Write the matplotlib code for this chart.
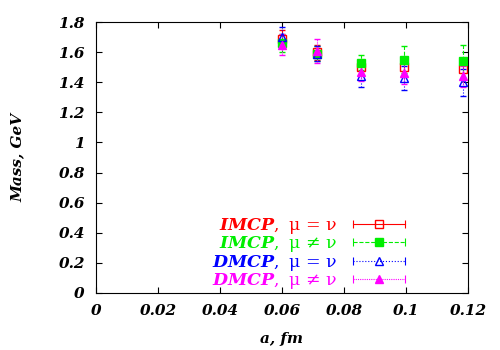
import matplotlib
matplotlib.use('Agg')
import matplotlib.pyplot as plt
from matplotlib.lines import Line2D
from matplotlib.legend_handler import HandlerLine2D

# lattice spacings (fm)
a_vals = [0.0599, 0.0713, 0.0854, 0.0995, 0.1183]

imcp_eq = [1.69, 1.60, 1.50, 1.50, 1.49]
imcp_eq_err = [0.06, 0.05, 0.05, 0.06, 0.07]
imcp_ne = [1.66, 1.59, 1.53, 1.55, 1.54]
imcp_ne_err = [0.06, 0.05, 0.05, 0.09, 0.11]
dmcp_eq = [1.70, 1.59, 1.44, 1.43, 1.40]
dmcp_eq_err = [0.07, 0.05, 0.07, 0.08, 0.09]
dmcp_ne = [1.65, 1.61, 1.47, 1.46, 1.44]
dmcp_ne_err = [0.07, 0.08, 0.06, 0.07, 0.07]

labels = [r'$\mathit{IMCP,}$ μ = ν', r'$\mathit{IMCP,}$ μ ≠ ν',
          r'$\mathit{DMCP,}$ μ = ν', r'$\mathit{DMCP,}$ μ ≠ ν']
colors = ['#ff0000', '#00ee00', '#0000ff', '#ff00ff']

xticks = [0, 0.02, 0.04, 0.06, 0.08, 0.1, 0.12]
xticklabels = ['0', '0.02', '0.04', '0.06', '0.08', '0.1', '0.12']
yticks = [0, 0.2, 0.4, 0.6, 0.8, 1.0, 1.2, 1.4, 1.6, 1.8]
yticklabels = ['0', '0.2', '0.4', '0.6', '0.8', '1', '1.2', '1.4', '1.6', '1.8']

plt.rcParams['mathtext.fontset'] = 'custom'
plt.rcParams['mathtext.it'] = 'DejaVu Serif:italic:bold'
plt.rcParams['mathtext.rm'] = 'DejaVu Serif'

fig = plt.figure(figsize=(5, 3.5), dpi=100)
ax = fig.add_axes([0.192, 0.163, 0.744, 0.774])

series = [
    (imcp_eq, imcp_eq_err, 's', 'none', '-'),
    (imcp_ne, imcp_ne_err, 's', None, '--'),
    (dmcp_eq, dmcp_eq_err, '^', 'none', ':'),
    (dmcp_ne, dmcp_ne_err, '^', None, (0, (1, 1))),
]

handles = []
hmap = {}
for (y, e, m, fc, ls), c in zip(series, colors):
    eb = ax.errorbar(a_vals, y, yerr=e, fmt=m, color=c, mfc=fc if fc else c,
                     mec=c, ms=6, mew=1, capsize=2.5, elinewidth=0.8,
                     capthick=0.8)
    eb[2][0].set_linestyle(ls)
    cap = Line2D([], [], color=c, lw=0.8, ls=ls, marker='|', ms=6, mew=0.8)
    mk = Line2D([], [], color=c, ls='none', marker=m, ms=6, mew=1,
                mfc=fc if fc else c, mec=c)
    hmap[cap] = HandlerLine2D(numpoints=2)
    hmap[mk] = HandlerLine2D(numpoints=1)
    handles.append((cap, mk))

ax.set_xlim(0, 0.12)
ax.set_ylim(0, 1.8)
ax.set_xticks(xticks)
ax.set_xticklabels(xticklabels)
ax.set_yticks(yticks)
ax.set_yticklabels(yticklabels)
ax.tick_params(direction='in', top=True, right=True, length=4, width=0.8,
               labelsize=11, pad=8)
for lab in ax.get_xticklabels() + ax.get_yticklabels():
    lab.set_family('DejaVu Serif')
    lab.set_style('italic')
    lab.set_weight('bold')
for sp in ax.spines.values():
    sp.set_linewidth(0.8)

ax.set_xlabel('a, fm', family='DejaVu Serif', style='italic',
              weight='bold', fontsize=11, labelpad=10)
ax.set_ylabel('Mass, GeV', family='DejaVu Serif', style='italic',
              weight='bold', fontsize=11, labelpad=24)

leg = ax.legend(handles, labels, handler_map=hmap, loc='lower right',
                bbox_to_anchor=(0.886, -0.05), frameon=False,
                markerfirst=False, handlelength=3.6, handletextpad=0.6,
                labelspacing=-0.1, prop={'family': 'DejaVu Serif', 'size': 12.5})
for t, c in zip(leg.get_texts(), colors):
    t.set_color(c)

fig.savefig('out.png', dpi=100)
